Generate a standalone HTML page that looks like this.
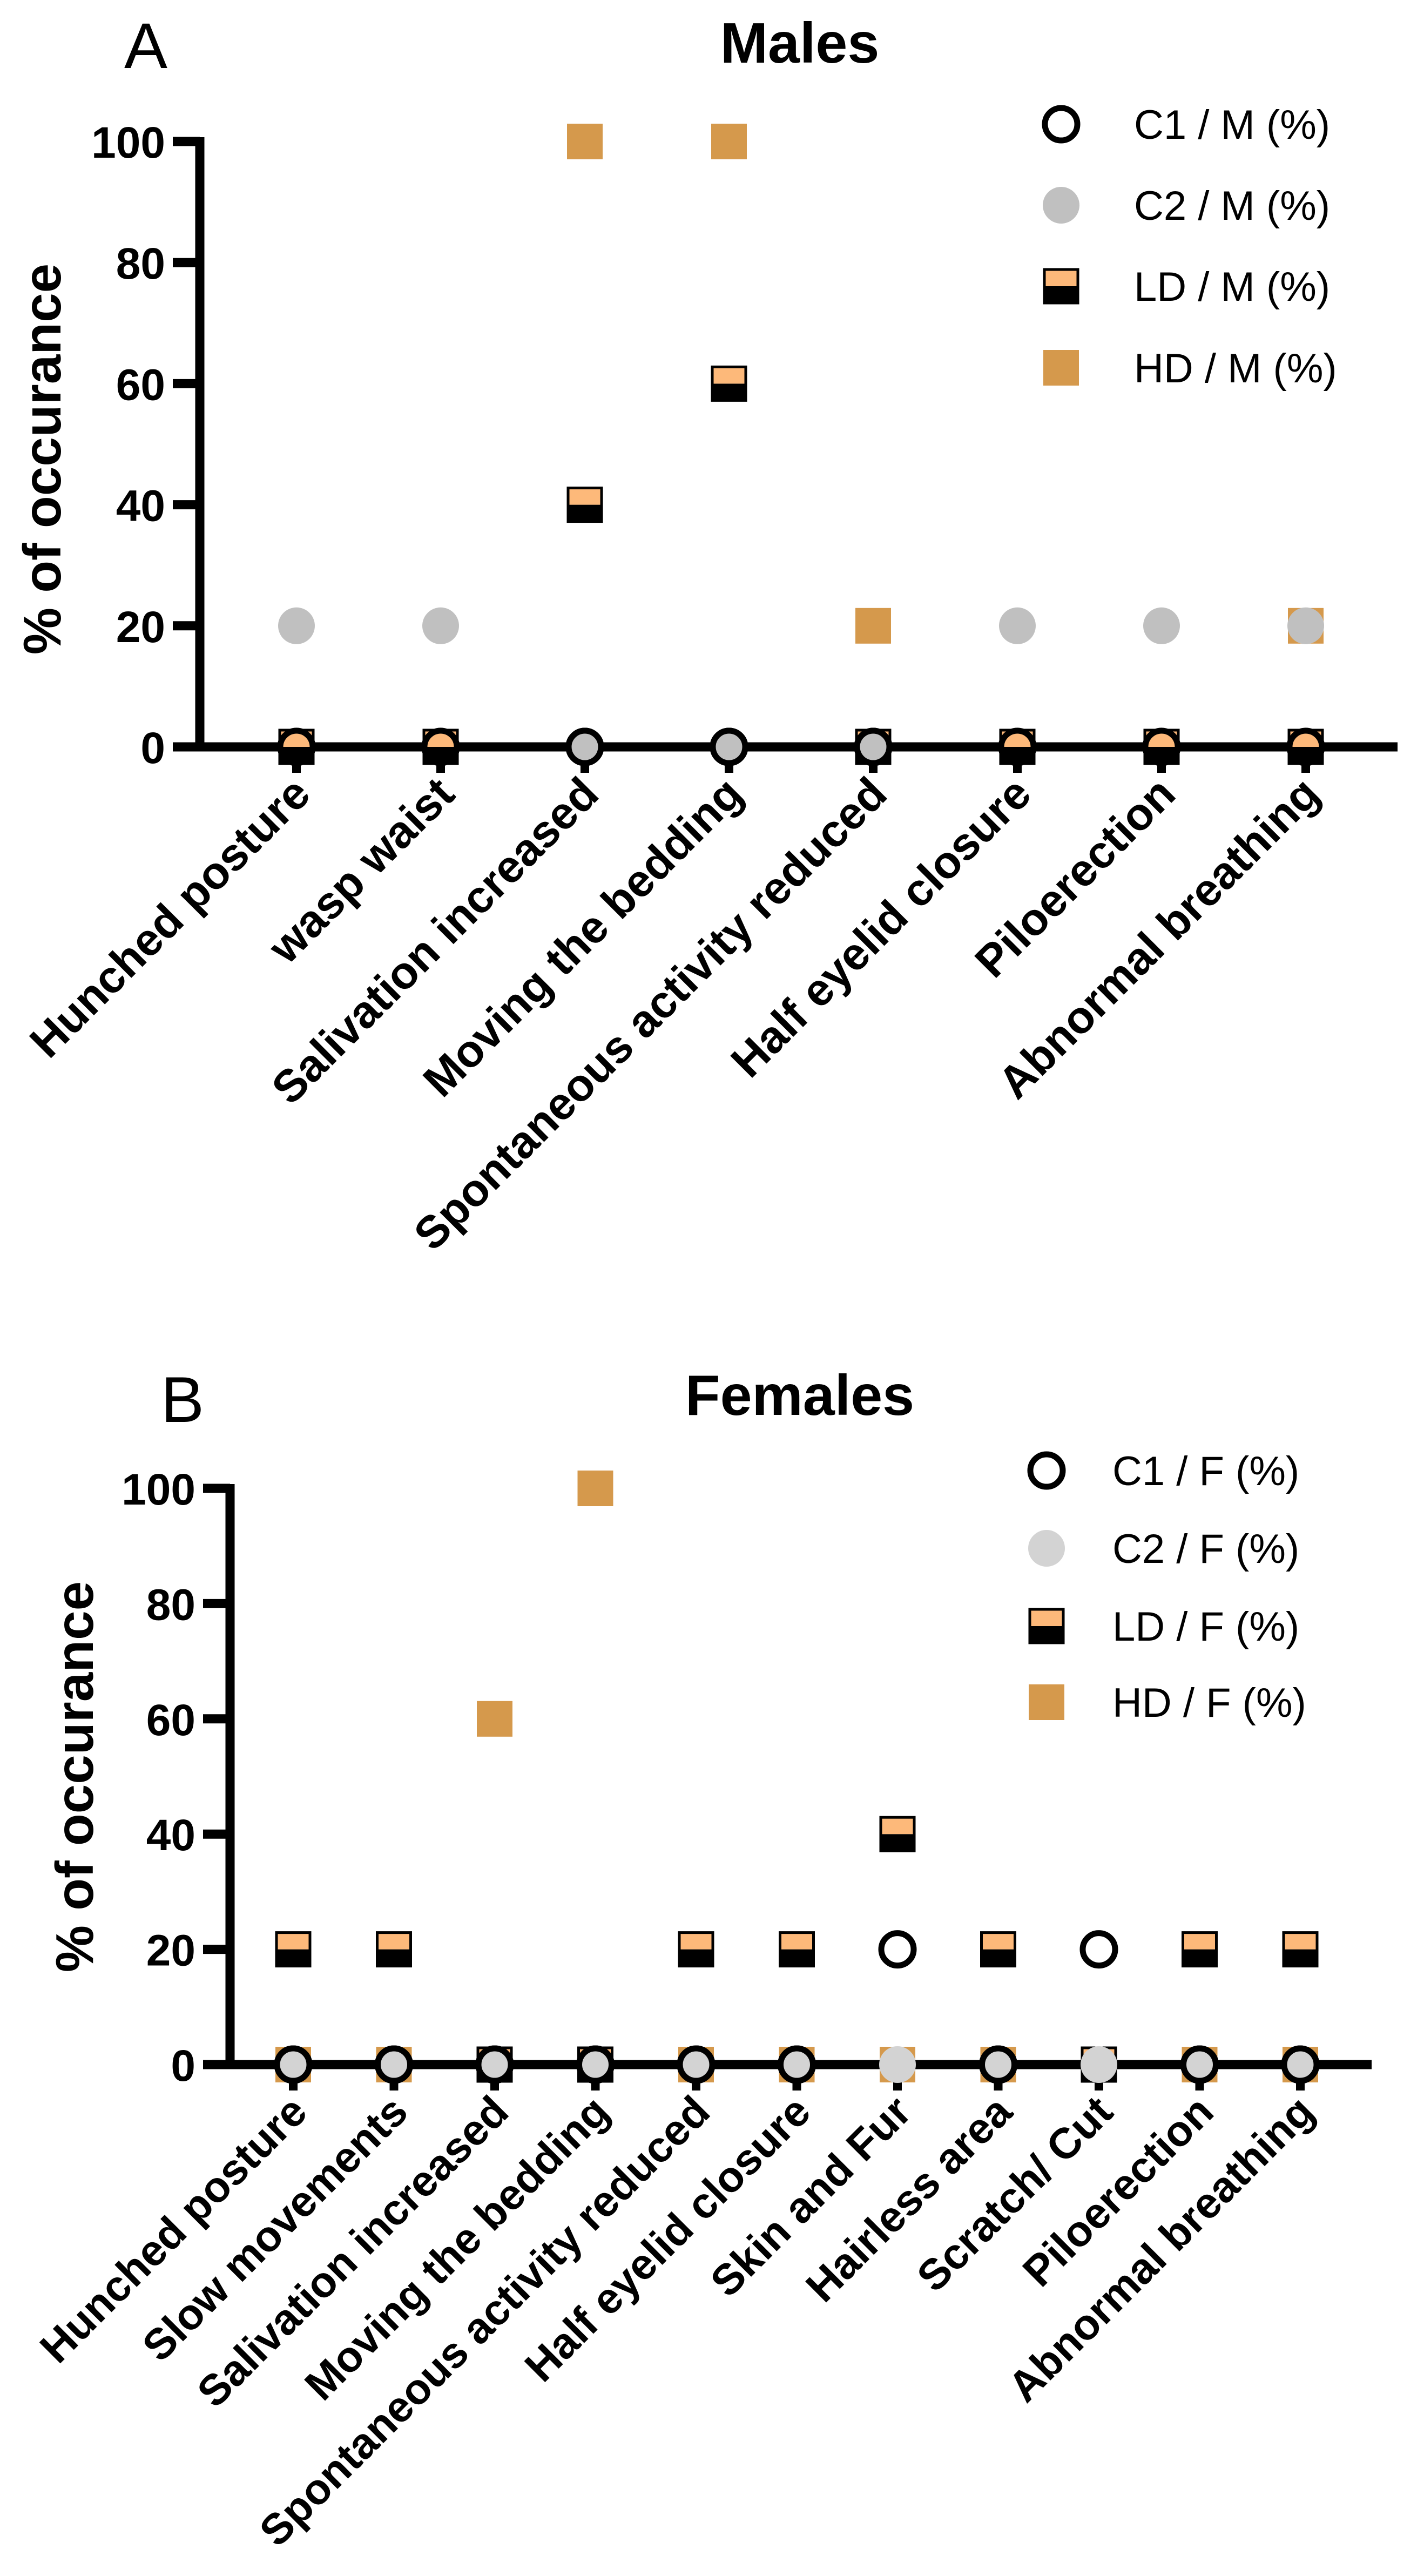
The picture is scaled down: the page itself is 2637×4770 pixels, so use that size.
<!DOCTYPE html>
<html><head><meta charset="utf-8"><style>
html,body{margin:0;padding:0;background:#fff}
svg{display:block}
text{font-family:"Liberation Sans",Arial,sans-serif}
</style></head><body>
<svg id="fig" xmlns="http://www.w3.org/2000/svg" width="2637" height="4770" viewBox="0 0 2637 4770"></svg>
<script>
const mCategories=["Hunched posture","wasp waist","Salivation increased","Moving the bedding","Spontaneous activity reduced","Half eyelid closure","Piloerection","Abnormal breathing"];
const mC1=[0,0,0,0,0,0,0,0];
const mC2=[20,20,0,0,0,20,20,20];
const mLD=[0,0,40,60,0,0,0,0];
const mHD=[0,0,100,100,20,0,0,20];
const fCategories=["Hunched posture","Slow movements","Salivation increased","Moving the bedding","Spontaneous activity reduced","Half eyelid closure","Skin and Fur","Hairless area","Scratch/ Cut","Piloerection","Abnormal breathing"];
const fC1=[0,0,0,0,0,0,20,0,20,0,0];
const fC2=[0,0,0,0,0,0,0,0,0,0,0];
const fLD=[20,20,0,0,20,20,40,20,0,20,20];
const fHD=[0,0,60,100,0,0,0,0,0,0,0];
const yTicks=[0,20,40,60,80,100];

const NS="http://www.w3.org/2000/svg";
const svg=document.getElementById('fig');
function el(tag,attrs,parent){const e=document.createElementNS(NS,tag);for(const k in attrs)e.setAttribute(k,attrs[k]);(parent||svg).appendChild(e);return e;}

function panel(o){
  const g=el('g',{});
  
  
  const yS=v=>o.y0+(o.y100-o.y0)*v/100;
  const xS=i=>o.x1st+i*o.dx;
  let t=el('text',{x:o.letterX,y:o.letterY,'font-size':120},g);t.textContent=o.letter;
  
  t=el('text',{x:o.titleX,y:o.titleY,'font-size':106,'font-weight':'bold','text-anchor':'middle'},g);t.textContent=o.title;
  
  t=el('text',{x:0,y:0,'font-size':98,'font-weight':'bold','text-anchor':'middle',transform:`translate(${o.ytX},${o.ytY}) rotate(-90)`},g);t.textContent='% of occurance';
  
  let a=el('line',{x1:o.axX,y1:yS(100)-8,x2:o.axX,y2:yS(0)+8,stroke:'#000','stroke-width':17},g);
  
  yTicks.forEach(v=>{
    const tk=el('line',{x1:o.axX-50,y1:yS(v),x2:o.axX,y2:yS(v),stroke:'#000','stroke-width':17},g);
    
    const tl=el('text',{x:o.axX-64,y:yS(v)+30,'font-size':82,'font-weight':'bold','text-anchor':'end'},g);tl.textContent=v;
    
  });
  o.cats.forEach((c,i)=>{
    const tk=el('line',{x1:xS(i),y1:yS(0),x2:xS(i),y2:yS(0)+48,stroke:'#000','stroke-width':16},g);
    
    const tl=el('text',{x:0,y:0,'font-size':o.xfs,'font-weight':'bold','text-anchor':'end',transform:`translate(${xS(i)+30},${yS(0)+92}) rotate(-45)`},g);tl.textContent=c;
    
  });
  a=el('line',{x1:o.axX-50,y1:yS(0),x2:o.axEnd,y2:yS(0),stroke:'#000','stroke-width':17},g);
  
  const s=66;
  function hd(x,y,p){return el('rect',{x:x-s/2,y:y-s/2,width:s,height:s,fill:'#D5994C'},p||g);}
  function ld(x,y,p){const q=el('g',{},p||g);
    el('rect',{x:x-s/2,y:y,width:s,height:s/2,fill:'#000'},q);
    el('rect',{x:x-s/2,y:y-s/2,width:s,height:s/2,fill:'#FDB97A'},q);
    el('rect',{x:x-s/2+2,y:y-s/2+2,width:s-4,height:s-4,fill:'none',stroke:'#000','stroke-width':5},q);return q;}
  function c1(x,y,p){return el('circle',{cx:x,cy:y,r:30,fill:'none',stroke:'#000','stroke-width':11},p||g);}
  function c2(x,y,p){return el('circle',{cx:x,cy:y,r:34,fill:o.c2col},p||g);}
  o.hd.forEach((v,i)=>{const m=hd(xS(i),yS(v));});
  o.ld.forEach((v,i)=>{const m=ld(xS(i),yS(v));});
  o.c1.forEach((v,i)=>{const m=c1(xS(i),yS(v));});
  o.c2.forEach((v,i)=>{const m=c2(xS(i),yS(v));
    if(o.c1[i]===v){c1(xS(i),yS(v));}});
  const lg=el('g',{},g);
  const fns=[c1,c2,ld,hd];
  o.leg.forEach((lab,k)=>{
    const y=o.legY[k];
    const e=el('g',{},lg);
    fns[k](o.legMX,y,e);
    const tx=el('text',{x:o.legTX,y:y+27,'font-size':76},e);tx.textContent=lab;
  });
}
panel({name:'males-chart',letter:'A',letterX:230,letterY:126,title:'Males',titleX:1481,titleY:116,
  ytX:112,ytY:850,axX:370,y0:1383,y100:262,x1st:549,dx:267,axEnd:2588,xfs:84,
  cats:mCategories,c1:mC1,c2:mC2,ld:mLD,hd:mHD,c2col:'#C0C0C0',
  leg:['C1 / M (%)','C2 / M (%)','LD / M (%)','HD / M (%)'],legY:[230,380,530,681],legMX:1965,legTX:2100});
panel({name:'females-chart',letter:'B',letterX:298,letterY:2633,title:'Females',titleX:1481,titleY:2620,
  ytX:172,ytY:3290,axX:426,y0:3823,y100:2756,x1st:543,dx:186.5,axEnd:2540,xfs:80,
  cats:fCategories,c1:fC1,c2:fC2,ld:fLD,hd:fHD,c2col:'#D3D3D3',
  leg:['C1 / F (%)','C2 / F (%)','LD / F (%)','HD / F (%)'],legY:[2723,2867,3011,3152],legMX:1938,legTX:2060});
</script>
</body></html>
